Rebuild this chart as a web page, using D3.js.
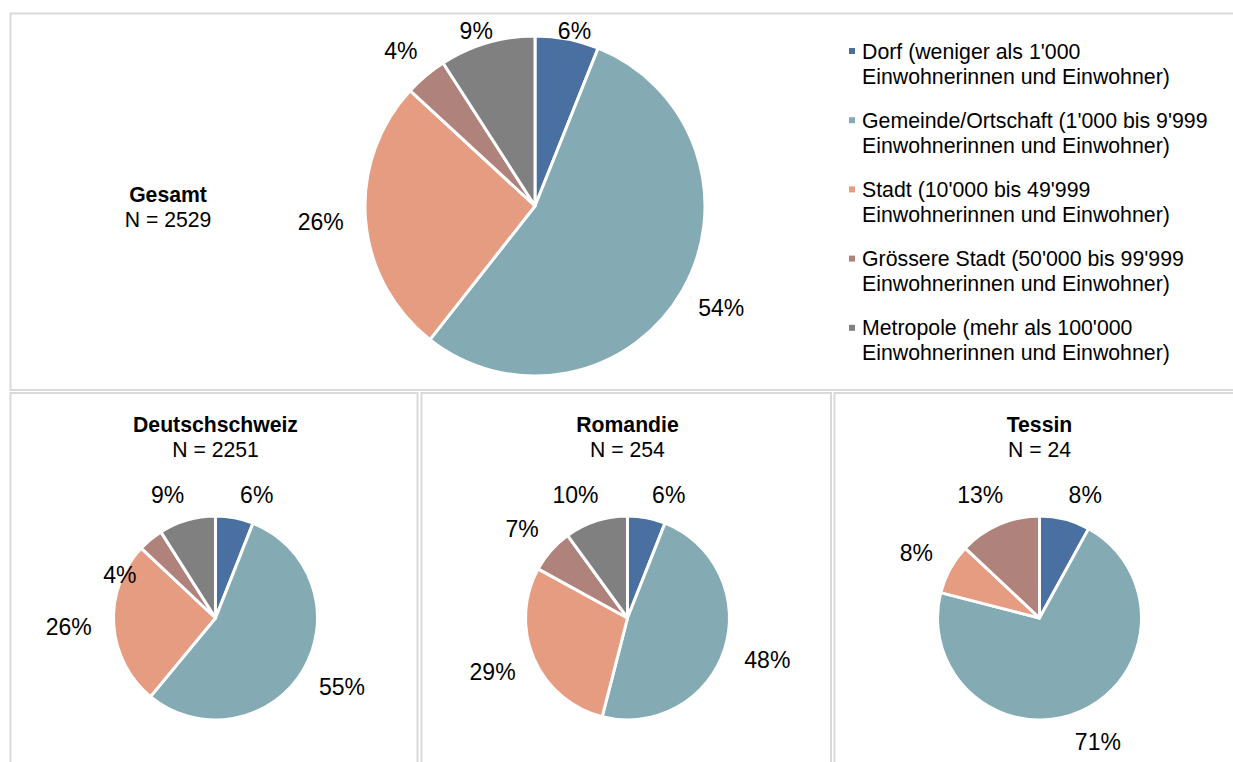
<!DOCTYPE html>
<html>
<head>
<meta charset="utf-8">
<script src="https://cdn.jsdelivr.net/npm/d3@7"></script>
<style>
  html, body { margin: 0; padding: 0; background: #fff; }
  svg { display: block; font-family: "Liberation Sans", Arial, sans-serif; }
</style>
</head>
<body>
<svg id="chart" width="1233" height="762"></svg>
<script>
// Settlement types (legend entries, two lines each)
const categories = ["Dorf", "Gemeinde/Ortschaft", "Stadt", "Grössere Stadt", "Metropole"];
const legendLines = [
  ["Dorf (weniger als 1'000", "Einwohnerinnen und Einwohner)"],
  ["Gemeinde/Ortschaft (1'000 bis 9'999", "Einwohnerinnen und Einwohner)"],
  ["Stadt (10'000 bis 49'999", "Einwohnerinnen und Einwohner)"],
  ["Grössere Stadt (50'000 bis 99'999", "Einwohnerinnen und Einwohner)"],
  ["Metropole (mehr als 100'000", "Einwohnerinnen und Einwohner)"]
];
const colors = ["#4a6fa1", "#84abb4", "#e69c81", "#b0827c", "#808080"];

// Regions and sample sizes
const regions = ["Gesamt", "Deutschschweiz", "Romandie", "Tessin"];
const sampleSizes = [2529, 2251, 254, 24];

// Shares in percent, in category order
const shareGesamt = [6, 54, 26, 4, 9];
const shareDeutschschweiz = [6, 55, 26, 4, 9];
const shareRomandie = [6, 48, 29, 7, 10];
const shareTessin = [8, 71, 8, 13, 0];

const shares = [shareGesamt, shareDeutschschweiz, shareRomandie, shareTessin];

const svg = d3.select("#chart");
const borderColor = "#d9d9d9";

// Panel frames
const panels = [
  { x0: 10.5, x1: 1240, y0: 13.5, y1: 390 },
  { x0: 10.5, x1: 417.5, y0: 393, y1: 800 },
  { x0: 421.5, x1: 831, y0: 393, y1: 800 },
  { x0: 834.5, x1: 1240, y0: 393, y1: 800 }
];
svg.selectAll("rect.panel").data(panels).join("rect")
  .attr("class", "panel")
  .attr("x", d => d.x0).attr("y", d => d.y0)
  .attr("width", d => d.x1 - d.x0).attr("height", d => d.y1 - d.y0)
  .attr("fill", "none").attr("stroke", borderColor).attr("stroke-width", 2);

// Pie geometry per region; `slide` moves labels pushed down from the top edge
// sideways along the rim, `moved` holds hand-placed label shifts (by category)
const layout = [
  { cx: 535, cy: 206, r: 170, titleX: 168, titleY: 202, labelMinY: 31, slide: 0, moved: {} },
  { cx: 215.5, cy: 618, r: 102, titleX: 215.5, titleY: 432, labelMinY: 495, slide: 0.5, moved: { 3: [-6, 61] } },
  { cx: 627.5, cy: 618, r: 102, titleX: 627.5, titleY: 432, labelMinY: 495, slide: 0.5, moved: {} },
  { cx: 1039.5, cy: 618, r: 102, titleX: 1039.5, titleY: 432, labelMinY: 495, slide: 0.5, moved: {} }
];

const pie = d3.pie().sort(null).value(d => d.value);

regions.forEach((region, i) => {
  const L = layout[i];
  const data = shares[i].map((v, k) => ({ value: v, cat: k }));
  const arcs = pie(data).filter(a => a.data.value > 0);
  const arc = d3.arc().innerRadius(0).outerRadius(L.r);

  const g = svg.append("g").attr("transform", `translate(${L.cx},${L.cy})`);
  g.selectAll("path").data(arcs).join("path")
    .attr("d", arc)
    .attr("fill", d => colors[d.data.cat])
    .attr("stroke", "#fff")
    .attr("stroke-width", 3)
    .attr("stroke-linejoin", "round");

  // Percentage labels placed just outside the rim
  const gap = 22, hh = 11;
  g.selectAll("text.pct").data(arcs).join("text")
    .attr("class", "pct")
    .attr("text-anchor", "middle")
    .attr("font-size", "23px")
    .attr("fill", "#000")
    .text(d => d.data.value + "%")
    .each(function (d) {
      const hw = this.getComputedTextLength() / 2;
      const a = (d.startAngle + d.endAngle) / 2;
      const s = Math.sin(a), c = Math.cos(a);
      let x = (L.r + gap) * s + s * hw;
      let y = -(L.r + gap) * c - c * hh;
      const minY = L.labelMinY - L.cy;
      if (y < minY) {
        const dist = Math.hypot(x, y);
        const xs = Math.sign(x) * Math.sqrt(Math.max(0, dist * dist - minY * minY));
        x = x + (xs - x) * L.slide;
        y = minY;
      }
      const m = L.moved[d.data.cat];
      if (m) { x += m[0]; y += m[1]; }
      d3.select(this).attr("x", x).attr("y", y).attr("dy", "0.36em");
    });

  // Region title and sample size
  svg.append("text")
    .attr("x", L.titleX).attr("y", L.titleY)
    .attr("text-anchor", "middle")
    .attr("font-size", "21.2px").attr("font-weight", "bold")
    .text(region);
  svg.append("text")
    .attr("x", L.titleX).attr("y", L.titleY + 25)
    .attr("text-anchor", "middle")
    .attr("font-size", "21.2px")
    .text("N = " + sampleSizes[i]);
});

// Legend
const legend = svg.append("g").attr("transform", "translate(849,51)");
const items = legend.selectAll("g.item").data(legendLines).join("g")
  .attr("class", "item")
  .attr("transform", (d, i) => `translate(0,${i * 69.2})`);
items.append("rect")
  .attr("x", 0).attr("y", -3).attr("width", 6).attr("height", 6)
  .attr("fill", (d, i) => colors[i]);
items.each(function (lines) {
  const t = d3.select(this).append("text")
    .attr("font-size", "21.3px").attr("fill", "#000");
  lines.forEach((line, j) => {
    t.append("tspan").attr("x", 13).attr("y", 7.5 + j * 25).text(line);
  });
});
</script>
</body>
</html>
